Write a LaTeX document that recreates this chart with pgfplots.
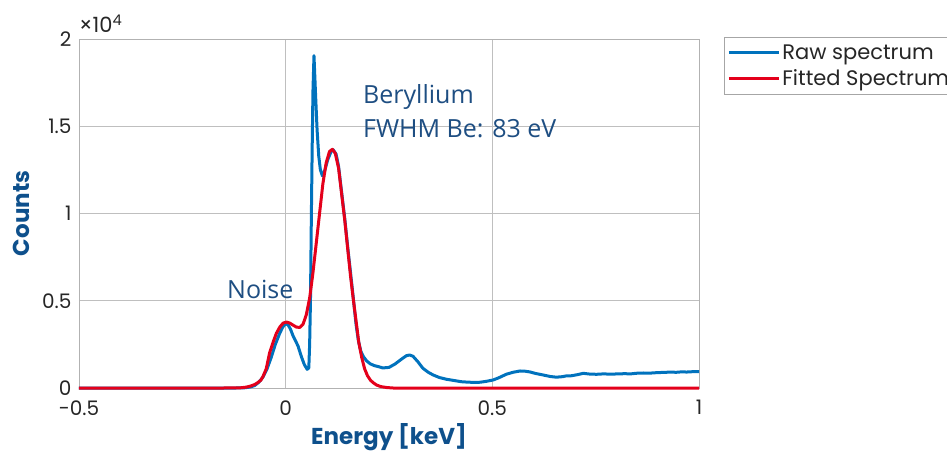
\documentclass[border=0pt]{standalone}
\usepackage{fontspec}
\setmainfont{Poppins}
\newfontfamily\annotfont{Open Sans}
\usepackage{pgfplots}
\pgfplotsset{compat=1.18}

\definecolor{rawblue}{RGB}{0,114,189}
\definecolor{fitred}{RGB}{228,0,27}
\definecolor{labelblue}{RGB}{14,80,140}
\definecolor{annotblue}{RGB}{30,78,130}
\definecolor{tickgray}{RGB}{38,38,38}

% measured spectrum: energy [keV], counts
\pgfplotstableread{
E counts
-0.500 0
-0.200 0
-0.120 0
-0.100 10
-0.085 60
-0.075 140
-0.065 330
-0.055 620
-0.045 1100
-0.035 1750
-0.025 2500
-0.015 3100
-0.007 3500
0.000 3680
0.006 3620
0.012 3350
0.018 2980
0.024 2700
0.030 2400
0.038 1800
0.045 1350
0.052 1070
0.056 1150
0.058 2500
0.060 5000
0.062 9500
0.064 13500
0.066 17000
0.0685 19050
0.072 17000
0.076 14800
0.080 13300
0.084 12500
0.089 12150
0.095 12500
0.102 13100
0.110 13550
0.115 13650
0.122 13400
0.128 12700
0.136 11100
0.143 9700
0.150 8100
0.157 6600
0.163 5300
0.170 3700
0.176 2700
0.182 2100
0.188 1800
0.196 1550
0.205 1380
0.215 1280
0.225 1220
0.235 1150
0.250 1180
0.265 1380
0.280 1650
0.292 1850
0.300 1890
0.308 1820
0.320 1500
0.332 1130
0.345 900
0.357 745
0.372 600
0.389 500
0.410 420
0.425 360
0.438 340
0.455 320
0.470 330
0.485 380
0.502 460
0.515 580
0.534 790
0.550 900
0.567 975
0.580 960
0.591 920
0.605 830
0.623 745
0.640 660
0.655 620
0.670 650
0.680 700
0.688 690
0.705 760
0.720 840
0.735 800
0.752 785
0.770 810
0.785 790
0.800 805
0.820 820
0.835 810
0.849 845
0.865 860
0.880 850
0.898 880
0.915 895
0.930 910
0.945 900
0.958 925
0.970 915
0.985 935
1.000 935
}\rawdata

% fitted model: energy [keV], counts
\pgfplotstableread{
E counts
-0.500 0
-0.150 0
-0.110 10
-0.095 50
-0.085 110
-0.075 200
-0.068 300
-0.060 450
-0.055 650
-0.047 1100
-0.039 2000
-0.030 2650
-0.0225 3134
-0.014 3500
-0.006 3720
0.002 3780
0.010 3720
0.018 3600
0.026 3490
0.034 3470
0.042 3650
0.050 4200
0.058 5150
0.066 6600
0.074 8300
0.082 10000
0.090 11700
0.098 12900
0.106 13550
0.113 13680
0.120 13450
0.128 12600
0.136 11000
0.143 9600
0.150 8000
0.157 6400
0.163 5200
0.170 3900
0.177 2600
0.184 1750
0.191 1100
0.198 700
0.205 450
0.212 300
0.220 170
0.230 80
0.245 25
0.260 0
1.000 0
}\fitdata

\begin{document}
\begin{tikzpicture}
\path[use as bounding box] (-79bp,-63bp) rectangle (868bp,388bp);
\begin{axis}[
  at={(0,0)}, anchor=south west,
  scale only axis, width=620bp, height=349bp,
  xmin=-0.5, xmax=1, ymin=0, ymax=20000,
  xtick={-0.5,0,0.5,1}, xticklabels={-0.5,0,0.5,1},
  ytick={0,5000,10000,15000,20000}, yticklabels={0,0.5,1,1.5,2},
  scaled y ticks=false,
  grid=major, grid style={gray!50, line width=0.6bp},
  axis line style={gray!60, line width=0.8bp},
  major tick length=0pt,
  tick label style={font=\fontsize{20bp}{22bp}\selectfont, text=tickgray},
  xticklabel style={yshift=-9bp},
  yticklabel style={xshift=-4bp},
  xlabel={Energy [keV]}, ylabel={Counts},
  label style={font=\fontsize{23bp}{26bp}\selectfont\bfseries, text=labelblue},
  xlabel style={at={(axis description cs:0.5,-0.14)}, anchor=center},
  ylabel style={at={(axis description cs:-0.0935,0.5)}, anchor=center},
  legend style={at={(axis description cs:1,1)}, anchor=north west,
    xshift=25bp, yshift=2bp, draw=gray!70, line width=0.8bp,
    font=\fontsize{21bp}{23bp}\selectfont, text=tickgray,
    inner xsep=3bp, inner ysep=5bp, row sep=5bp},
  legend cell align=left,
  legend image code/.code={\draw[#1] (0bp,0bp) -- (50bp,0bp);},
  every axis plot/.append style={line width=3bp, line join=round},
  clip=false,
]
\addplot[rawblue] table[x=E, y=counts] {\rawdata};
\addlegendentry{Raw spectrum}
\addplot[fitred] table[x=E, y=counts] {\fitdata};
\addlegendentry{Fitted Spectrum}

\node[anchor=base west, font=\fontsize{21bp}{23bp}\selectfont, text=tickgray, inner xsep=0pt]
  at (rel axis cs:0,1) [yshift=6bp] {×10\textsuperscript{4}};
\node[anchor=base west, font=\annotfont\fontsize{25bp}{28bp}\selectfont, text=annotblue]
  at (axis cs:-0.1500,5157) {Noise};
\node[anchor=base west, font=\annotfont\fontsize{25bp}{28bp}\selectfont, text=annotblue]
  at (axis cs:0.1790,16330) {Beryllium};
\node[anchor=base west, font=\annotfont\fontsize{25bp}{28bp}\selectfont, text=annotblue]
  at (axis cs:0.1790,14380) {FWHM Be: 83 eV};
\end{axis}
\end{tikzpicture}
\end{document}
